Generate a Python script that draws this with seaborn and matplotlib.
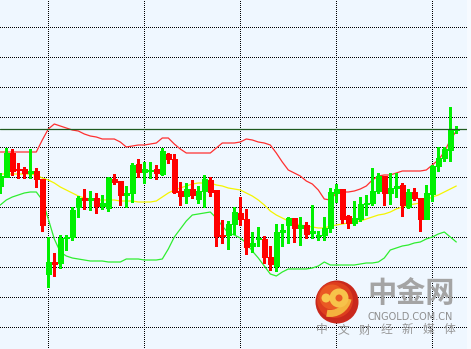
import numpy as np
import pandas as pd
import matplotlib
matplotlib.use("Agg")
import matplotlib.pyplot as plt
import seaborn as sns
from matplotlib.patches import Circle, Wedge

# ---------------- data ----------------
opens = [1311.4, 1312.3, 1314.7, 1313.1, 1313.1, 1312.7, 1312.9, 1312.1, 1302.6, 1303.8,
         1303.7, 1306.2, 1306.3, 1309.3, 1310.2, 1310.05, 1310.2, 1309.4, 1309.2, 1312.1,
         1311.9, 1310.5, 1310.7, 1313.6, 1312.8, 1312.9, 1313.1, 1312.6, 1314.6, 1314.1,
         1310.9, 1310.4, 1311.1, 1310.1, 1310.9, 1312.0, 1311.0, 1306.5, 1306.5, 1307.6,
         1308.7, 1308.1, 1305.4, 1306.1, 1306.1, 1304.3, 1303.4, 1306.8, 1307.5, 1308.2,
         1307.2, 1307.5, 1306.7, 1306.4, 1306.5, 1307.2, 1310.7, 1311.1, 1308.4, 1307.7,
         1308.1, 1309.6, 1309.7, 1310.9, 1312.4, 1310.7, 1311.2, 1311.5, 1309.3, 1310.8,
         1310.2, 1308.1, 1310.6, 1313.4, 1314.2, 1315.0, 1317.0]
closes = [1312.4, 1314.7, 1312.9, 1313.0, 1312.7, 1312.9, 1312.1, 1307.5, 1303.8, 1303.6,
          1306.2, 1306.3, 1309.0, 1310.2, 1310.05, 1310.2, 1309.4, 1309.7, 1312.2, 1311.8,
          1310.5, 1310.7, 1313.5, 1312.8, 1313.1, 1313.05, 1312.7, 1314.9, 1314.1, 1310.8,
          1310.4, 1311.1, 1310.5, 1310.9, 1312.1, 1310.8, 1306.4, 1306.4, 1307.6, 1308.8,
          1308.1, 1305.3, 1305.7, 1306.2, 1304.3, 1303.6, 1306.8, 1307.0, 1308.2, 1307.2,
          1307.5, 1306.6, 1306.9, 1306.5, 1307.2, 1310.8, 1311.1, 1308.1, 1307.7, 1308.2,
          1309.6, 1309.7, 1310.9, 1312.4, 1310.7, 1311.2, 1311.4, 1309.5, 1310.8, 1310.2,
          1308.1, 1310.7, 1313.4, 1314.2, 1315.1, 1317.1, 1317.1]
highs = [1312.7, 1315.2, 1315.1, 1313.7, 1313.3, 1315.1, 1313.2, 1312.1, 1306.3, 1304.7,
         1306.5, 1306.5, 1309.3, 1310.4, 1311.1, 1310.9, 1310.7, 1310.5, 1312.3, 1312.6,
         1311.9, 1311.4, 1313.7, 1314.1, 1313.8, 1313.8, 1313.5, 1315.2, 1314.7, 1314.6,
         1311.8, 1311.7, 1312.0, 1311.4, 1312.5, 1312.3, 1311.0, 1308.0, 1307.9, 1309.3,
         1310.3, 1309.1, 1306.8, 1307.3, 1306.4, 1305.4, 1307.6, 1307.6, 1308.3, 1308.2,
         1308.3, 1307.8, 1309.5, 1306.9, 1308.3, 1311.2, 1311.6, 1311.1, 1308.5, 1309.9,
         1310.3, 1310.5, 1313.2, 1312.7, 1312.4, 1312.7, 1312.7, 1311.7, 1311.1, 1311.2,
         1310.2, 1311.5, 1313.5, 1315.3, 1315.3, 1319.3, 1317.4]
lows = [1310.7, 1312.3, 1312.5, 1312.2, 1312.2, 1312.2, 1311.3, 1306.9, 1301.3, 1302.4,
        1303.2, 1305.0, 1306.0, 1308.3, 1309.1, 1309.0, 1308.7, 1309.1, 1308.9, 1311.6,
        1309.5, 1309.3, 1309.8, 1312.3, 1311.7, 1312.2, 1312.1, 1312.5, 1313.7, 1310.7,
        1309.5, 1309.7, 1310.2, 1309.7, 1309.3, 1310.4, 1305.4, 1305.7, 1305.1, 1306.6,
        1307.5, 1304.6, 1304.8, 1305.4, 1303.7, 1303.0, 1302.9, 1305.4, 1305.7, 1305.8,
        1305.5, 1306.2, 1306.2, 1306.0, 1306.0, 1306.8, 1309.8, 1307.7, 1307.2, 1307.5,
        1307.9, 1308.5, 1309.5, 1310.7, 1309.5, 1309.6, 1310.3, 1308.4, 1309.2, 1310.0,
        1306.9, 1308.1, 1309.9, 1312.9, 1313.9, 1313.9, 1316.7]

upper = [1314.8, 1314.8, 1314.8, 1314.8, 1314.8, 1314.8, 1314.8, 1316.0, 1317.1, 1317.6,
         1317.4, 1317.2, 1317.0, 1316.9, 1316.6, 1316.4, 1316.3, 1316.1, 1316.1, 1316.1,
         1315.8, 1315.3, 1315.4, 1315.5, 1315.5, 1315.6, 1315.7, 1316.2, 1316.2, 1315.6,
         1315.1, 1314.7, 1314.7, 1314.7, 1314.7, 1314.7, 1315.2, 1315.7, 1315.7, 1315.7,
         1315.8, 1316.1, 1316.0, 1315.8, 1315.7, 1315.5, 1314.7, 1313.8, 1313.0, 1312.7,
         1312.4, 1311.9, 1311.6, 1311.0, 1310.1, 1310.0, 1310.7, 1310.8, 1310.8, 1310.9,
         1311.1, 1311.4, 1312.0, 1312.4, 1312.5, 1312.5, 1312.7, 1312.9, 1312.9, 1312.9,
         1312.9, 1313.0, 1313.5, 1314.0, 1314.8, 1316.0, 1316.9]
middle = [1312.6, 1312.6, 1312.6, 1312.6, 1312.6, 1312.6, 1312.5, 1312.2, 1312.0, 1311.7,
          1311.3, 1311.0, 1310.7, 1310.4, 1310.2, 1310.1, 1310.0, 1310.0, 1310.0, 1310.0,
          1309.9, 1309.9, 1309.9, 1309.8, 1309.8, 1309.8, 1309.9, 1310.3, 1310.7, 1311.0,
          1311.2, 1311.4, 1311.6, 1311.7, 1311.7, 1311.7, 1311.5, 1311.4, 1311.2, 1311.1,
          1311.0, 1310.7, 1310.4, 1310.0, 1309.5, 1308.9, 1308.5, 1308.2, 1307.9, 1307.7,
          1307.5, 1307.4, 1307.3, 1307.2, 1307.2, 1307.4, 1307.5, 1307.6, 1307.7, 1307.8,
          1307.9, 1308.1, 1308.3, 1308.5, 1308.6, 1308.8, 1309.1, 1309.3, 1309.5, 1309.6,
          1309.7, 1310.0, 1310.3, 1310.5, 1310.8, 1311.1, 1311.4]
lower = [1309.5, 1310.0, 1310.3, 1310.5, 1310.7, 1310.8, 1310.8, 1310.0, 1308.1, 1306.1,
         1304.8, 1304.4, 1304.2, 1304.1, 1304.0, 1303.9, 1303.9, 1303.9, 1303.8, 1303.8,
         1303.8, 1304.1, 1304.1, 1304.1, 1304.0, 1304.0, 1304.0, 1304.1, 1305.1, 1306.3,
         1307.1, 1307.9, 1308.5, 1308.6, 1308.7, 1308.8, 1308.2, 1307.4, 1306.7, 1306.5,
         1306.2, 1305.7, 1304.9, 1304.2, 1303.4, 1302.6, 1302.4, 1302.8, 1303.1, 1303.1,
         1303.1, 1303.1, 1303.2, 1303.4, 1303.8, 1303.5, 1303.5, 1303.5, 1303.5, 1303.5,
         1303.6, 1303.7, 1303.7, 1303.8, 1304.2, 1305.0, 1305.2, 1305.4, 1305.5, 1305.7,
         1305.8, 1306.1, 1306.3, 1306.6, 1306.8, 1306.3, 1305.8]

last_price = 1317.1
grid_prices = [1297.3, 1300.3, 1303.3, 1306.3, 1309.3, 1312.3, 1315.3, 1318.3, 1321.3, 1324.3, 1327.3]
grid_bars = [8, 24, 40, 56, 72]

brand = "中金网"
site = "CNGOLD.COM.CN"
slogan = ["中", "文", "财", "经", "新", "媒", "体"]

# ---------------- style ----------------
BG = "#EFF7FF"
sns.set_style("white", {"axes.facecolor": BG, "figure.facecolor": "#F6FAFF",
                        "grid.color": "black", "axes.grid": True})
plt.rcParams["font.family"] = ["Noto Sans CJK SC", "DejaVu Sans"]

df = pd.DataFrame({"open": opens, "close": closes, "high": highs, "low": lows,
                   "upper": upper, "middle": middle, "lower": lower})
df["i"] = np.arange(len(df))
up = df["close"] >= df["open"]
colors = list(np.where(up, "#00F000", "#FF0000"))

fig = plt.figure(figsize=(4.71, 3.49), dpi=100)
ax = fig.add_axes([0, 0, 467 / 471, 1])

# Bollinger bands
sns.lineplot(data=df, x="i", y="upper", ax=ax, color="#FF3030", linewidth=0.9, zorder=2)
sns.lineplot(data=df, x="i", y="middle", ax=ax, color="#F5F500", linewidth=0.9, zorder=2)
sns.lineplot(data=df, x="i", y="lower", ax=ax, color="#30EE30", linewidth=0.9, zorder=2)

# candles
ax.vlines(df["i"], df["low"], df["high"], colors=colors, linewidth=0.8,
          antialiased=False, zorder=3)
body_bottom = np.minimum(df["open"], df["close"])
body_h = np.abs(df["close"] - df["open"])
ax.bar(df["i"], body_h, bottom=body_bottom, width=0.78, color=colors,
       edgecolor=colors, linewidth=0.5, antialiased=False, zorder=4)

ax.axhline(last_price, color="#1E5A1E", linewidth=0.9, zorder=5)

ax.set_xlim(-0.05, -0.05 + 467 / 6)
ax.set_ylim(1295.1, 1330.0)
ax.set_xticks(grid_bars)
ax.set_yticks(grid_prices)
ax.grid(True, color="black", linestyle=(0, (1, 2)), linewidth=0.72, antialiased=False)
ax.set_axisbelow(True)
ax.tick_params(length=0, labelleft=False, labelbottom=False)
ax.set_xlabel("")
ax.set_ylabel("")
for s in ax.spines.values():
    s.set_visible(False)

# ---------------- watermark ----------------
wm = fig.add_axes([0, 0, 1, 1], zorder=10)
wm.set_xlim(0, 471)
wm.set_ylim(349, 0)
wm.axis("off")
wm.patch.set_alpha(0)
wm.add_patch(Circle((337, 302), 21.5, fc="#C9281C", ec="none"))
wm.add_patch(Circle((335, 300), 18, fc="#DD3E1E", ec="none"))
wm.add_patch(Circle((332, 297), 12.5, fc="#EA5A24", ec="none"))
wm.add_patch(Wedge((330, 295), 22, 12, 100, width=7, fc="#F4B23E", ec="none"))
wm.add_patch(Wedge((339, 298), 9.5, 0, 360, width=6, fc="#F7C24A", ec="none"))
wm.add_patch(Circle((326, 298), 4.5, fc="#F8C84E", ec="none"))
wm.text(411, 293, brand, ha="center", va="center", fontsize=21, fontweight="bold",
        color="#A4A4A4", family=["Noto Sans CJK SC"])
wm.text(410, 316.5, site, ha="center", va="center", fontsize=7, color="#8E8E8E",
        family=["DejaVu Sans"])
for ch, xx in zip(slogan, np.linspace(322, 450, len(slogan))):
    wm.text(xx, 330, ch, ha="center", va="center", fontsize=8.5, color="#979797",
            family=["Noto Sans CJK SC"])

fig.savefig("out.png", dpi=100, facecolor=fig.get_facecolor())
